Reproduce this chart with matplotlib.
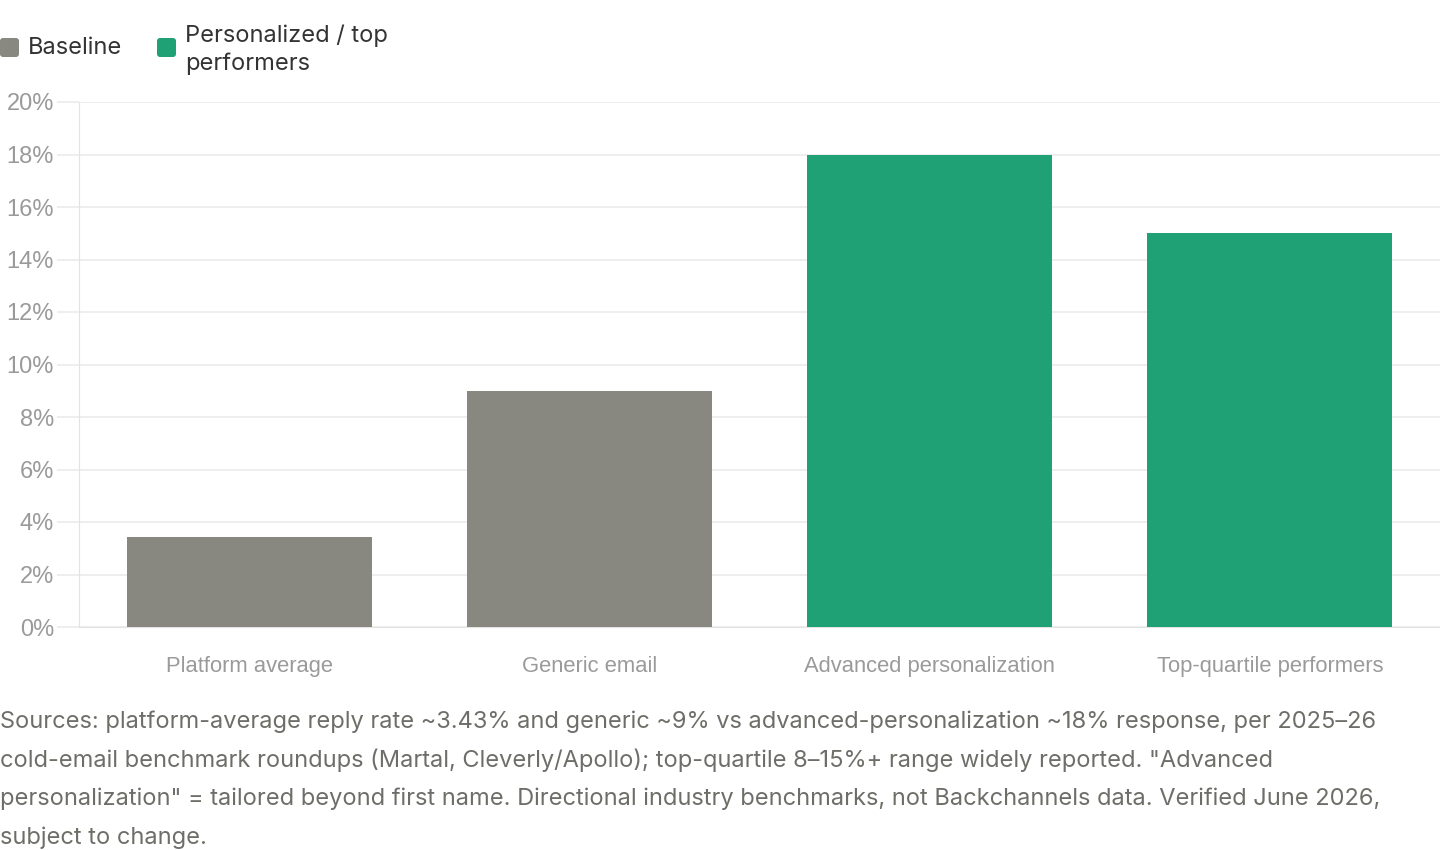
import matplotlib
matplotlib.use('Agg')
import matplotlib.pyplot as plt
from matplotlib.patches import FancyBboxPatch
from matplotlib.transforms import IdentityTransform
from matplotlib.ticker import FuncFormatter

# data
categories = ['Platform average', 'Generic email', 'Advanced personalization', 'Top-quartile performers']
values = [3.43, 9, 18, 15]
groups = ['Baseline', 'Baseline', 'Personalized / top\nperformers', 'Personalized / top\nperformers']
yticks = [0, 2, 4, 6, 8, 10, 12, 14, 16, 18, 20]
caption_lines = [
    'Sources: platform-average reply rate ~3.43% and generic ~9% vs advanced-personalization ~18% response, per 2025\u201326',
    'cold-email benchmark roundups (Martal, Cleverly/Apollo); top-quartile 8\u201315%+ range widely reported. "Advanced',
    'personalization" = tailored beyond first name. Directional industry benchmarks, not Backchannels data. Verified June 2026,',
    'subject to change.',
]

colors = {'Baseline': '#898880', 'Personalized / top\nperformers': '#1fa075'}

W, H = 1440, 850
fig = plt.figure(figsize=(W/100, H/100), dpi=100)
ax = fig.add_axes([79/W, 1 - 627/H, 1 - 79/W, (627 - 102)/H])

x = range(len(categories))
ax.bar(x, values, width=0.72, color=[colors[g] for g in groups], zorder=3)

ax.set_xlim(-0.5, len(categories) - 0.5)
ax.set_ylim(0, 20)
ax.set_yticks(yticks)
ax.yaxis.set_major_formatter(FuncFormatter(lambda v, p: f'{v:.0f}%'))
ax.set_xticks(list(x))
ax.set_xticklabels(categories)
ax.grid(axis='y', color='#ebebeb', linewidth=1.2, zorder=0)
for s in ['top', 'right']:
    ax.spines[s].set_visible(False)
ax.spines['left'].set_color('#e3e3e3')
ax.spines['bottom'].set_color('#e3e3e3')
ax.tick_params(axis='y', length=16, color='#ebebeb', width=1.2, labelsize=17,
               labelcolor='#9a9a9a', pad=2)
ax.tick_params(axis='x', length=0, labelsize=15.8, labelcolor='#9a9a9a', pad=21)
for lab in ax.get_yticklabels() + ax.get_xticklabels():
    lab.set_family(['Liberation Sans', 'DejaVu Sans'])

# legend, drawn by hand (pixel coords, y from top)
legend_items = [(0, 'Baseline'), (157, 'Personalized / top\nperformers')]
for lx, name in legend_items:
    box = FancyBboxPatch((lx, H - 57), 19, 19, boxstyle='round,pad=0,rounding_size=3',
                         facecolor=colors[name], edgecolor='none', transform=IdentityTransform())
    fig.add_artist(box)
    ty = 47.5 if '\n' not in name else 49.5
    fig.text((lx + 28)/W, 1 - ty/H, name, ha='left', va='center', fontsize=17,
             color='#333333', family='Inter', linespacing=1.34)

# caption
for i, line in enumerate(caption_lines):
    fig.text(0.0, 1 - (722 + i * 38.5)/H, line, ha='left', va='center',
             fontsize=17.0, color='#6e6e69', family='Inter')

fig.savefig('out.png', dpi=100, facecolor='white')
